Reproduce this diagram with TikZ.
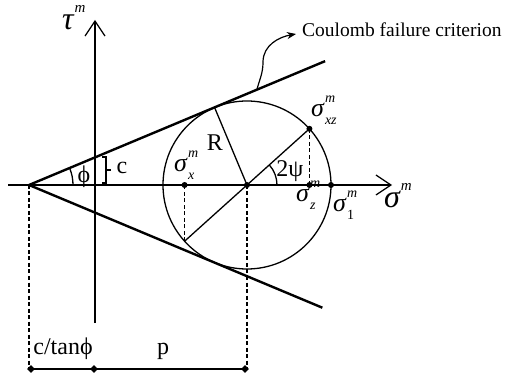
\documentclass[tikz,border=0pt]{standalone}
\usepackage{fontspec}
\setmainfont{Liberation Serif}
\usetikzlibrary{arrows.meta,calc,shapes.geometric}
\newcommand{\symsup}[5]{{\itshape #1}\hspace{#4}\rlap{\raisebox{0.55em}{\fontsize{#5}{#5}\selectfont\itshape #2}}\raisebox{-0.27em}{\fontsize{#5}{#5}\selectfont #3}}
\begin{document}
\begin{tikzpicture}[x=1pt,y=1pt,
  axis/.style={line width=1.2pt,-{Straight Barb[length=15pt,width=20pt,line width=1.2pt]}},
  env/.style={line width=2.4pt},
  thinline/.style={line width=1.3pt},
  dashline/.style={line width=1.2pt,dash pattern=on 4pt off 2.5pt},
  dot/.style={circle,fill,inner sep=0pt,minimum size=6pt},
  dimdot/.style={diamond,fill,inner sep=0pt,minimum size=8pt},
  lab/.style={font=\fontsize{24}{26}\selectfont,inner sep=0pt},
  slab/.style={font=\fontsize{26}{28}\selectfont,inner sep=0pt,anchor=base west},
  blab/.style={font=\fontsize{32}{34}\selectfont,inner sep=0pt,anchor=base west}]
\useasboundingbox (0,0) rectangle (505,380);
% key points
\coordinate (A) at (29,195);
\coordinate (O) at (247,195);
\coordinate (xl) at (8,195);
\coordinate (xr) at (392,195);
\coordinate (yb) at (95,57);
\coordinate (yt) at (95,360);
\coordinate (U) at ($(A)+(22.7:321)$);
\coordinate (L) at ($(A)+(-22.7:318)$);
\coordinate (T) at ($(O)+(112.7:84)$);
\coordinate (P) at ($(O)+(42:84)$);
\coordinate (Q) at ($(O)+(222:84)$);
\coordinate (S1) at ($(O)+(84,0)$);
\coordinate (Sz) at (P |- O);
\coordinate (Sx) at (Q |- O);
\coordinate (Ab) at (29,11);
\coordinate (Ob) at (247,11);
\coordinate (C0) at ($(A)+(22.7:247)$);
\coordinate (C1) at (263,318);
\coordinate (C2) at (296,346);
% axes
\draw[axis] (xl) -- (xr);
\draw[axis] (yb) -- (yt);
% failure envelope
\draw[env] (A) -- (U);
\draw[env] (A) -- (L);
% Mohr circle
\draw[thinline] (O) circle (84);
\draw[thinline] (O) -- (T);
\draw[thinline] (P) -- (Q);
\draw[dashline] (P) -- (Sz);
\draw[dashline] (Q) -- (Sx);
\draw[dashline] (A) -- (Ab);
\draw[dashline] (O) -- (Ob);
% angle arcs
\draw[thinline] ($(A)+(44,0)$) arc (0:22.7:44);
\draw[thinline] ($(O)+(30,0)$) arc (0:42:30);
% c bracket
\draw[thinline] (102,223) -- (106,223) -- (106,197) -- (102,197);
\draw[thinline] (106,210) -- (111,210);
% dots
\node[dot] (dO) at (O) {};
\node[dot] (dP) at (P) {};
\node[dot] (dSz) at (Sz) {};
\node[dot] (dSx) at (Sx) {};
\node[dot] (dS1) at (S1) {};
% dimension line
\node[dimdot] (D1) at (31,11) {};
\node[dimdot] (D2) at (94,11) {};
\node[dimdot] (D3) at (245,11) {};
\draw[line width=1.5pt] (D1.center) -- (D3.center);
% Coulomb arrow
\draw[line width=1.2pt,-{Stealth[length=9pt,width=7pt]}] (C0) to[out=75,in=-90] (C1) to[out=90,in=190] (C2);
\node[font=\fontsize{19.5}{22}\selectfont,inner sep=0pt,anchor=base west] (coul) at (302,343) {Coulomb failure criterion};
% labels
\node[blab] (tau) at (62,350) {\symsup{τ}{m}{}{1pt}{15}};
\node[blab] (sig) at (384,172) {\symsup{σ}{m}{}{1pt}{15}};
\node[slab] (sx) at (174,208) {\symsup{σ}{m}{\itshape x}{1pt}{14}};
\node[slab] (sxz) at (311,263) {\symsup{σ}{m}{\itshape xz}{1pt}{14}};
\node[slab] (sz) at (296,178) {\symsup{σ}{m}{\itshape z}{1pt}{14}};
\node[slab] (s1) at (333,168) {\symsup{σ}{m}{1}{1pt}{14}};
\node[lab] (Rl) at (215,237) {R};
\node[lab] (cl) at (122,212) {c};
\node[lab] (phil) at (84,203) {ϕ};
\node[lab] (psil) at (290,209) {2ψ};
\node[lab,anchor=base] (ctan) at (63,26) {c/tanϕ};
\node[lab,anchor=base] (pl) at (163,26) {p};
\end{tikzpicture}
\end{document}
